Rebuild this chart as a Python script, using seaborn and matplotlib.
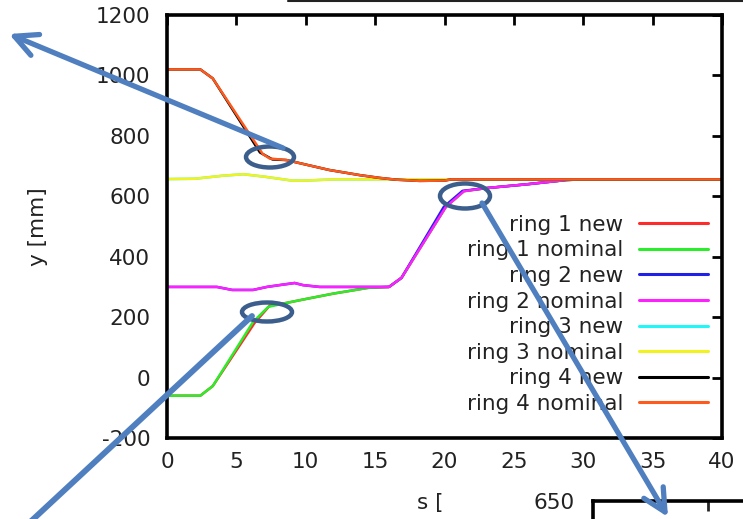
import matplotlib
matplotlib.use("Agg")
import matplotlib.pyplot as plt
import seaborn as sns
import pandas as pd
from matplotlib.patches import Ellipse, FancyArrowPatch, ArrowStyle
from matplotlib.lines import Line2D

# ---------------- data ----------------
ring1_new_s = [0, 2.4, 3.3, 6.3, 7.4, 8.6, 10, 12, 14.5, 16, 16.9, 20.1, 21.4, 23, 26, 28.8, 30, 40]
ring1_new_y = [-60, -60, -28, 180, 238, 247, 260, 278, 297, 300, 330, 565, 617, 627, 640, 654, 656, 656]

ring1_nom_s = [0, 2.4, 3.3, 6.2, 7.3, 8.6, 10, 12, 14.5, 16, 16.9, 20.1, 21.4, 23, 26, 28.8, 30, 40]
ring1_nom_y = [-60, -60, -28, 184, 234, 247, 260, 278, 297, 300, 330, 565, 617, 627, 640, 654, 656, 656]

ring2_new_s = [0, 3.6, 4.7, 6.2, 7.2, 8.1, 9.2, 9.8, 11, 16, 16.9, 19.95, 21.3, 23, 26, 28.8, 30, 40]
ring2_new_y = [300, 300, 290, 290, 300, 306, 313, 306, 300, 300, 330, 565, 618, 627, 640, 654, 656, 656]

ring2_nom_s = [0, 3.6, 4.7, 6.2, 7.2, 8.1, 9.2, 9.8, 11, 16, 16.9, 20.1, 21.4, 23, 26, 28.8, 30, 40]
ring2_nom_y = [300, 300, 290, 290, 300, 306, 313, 306, 300, 300, 330, 565, 617, 627, 640, 654, 656, 656]

ring3_new_s = [0, 2, 4, 5.5, 7, 9, 10, 12, 16, 40]
ring3_new_y = [657, 658, 668, 673, 665, 652, 652, 656, 656, 656]

ring3_nom_s = [0, 2, 4, 5.5, 7, 9, 10, 12, 16, 40]
ring3_nom_y = [657, 658, 668, 673, 665, 652, 652, 656, 656, 656]

ring4_new_s = [0, 2.4, 3.3, 6.7, 7.6, 8.6, 10, 11.7, 13.9, 15.3, 16.5, 18.2, 20, 20.5, 40]
ring4_new_y = [1020, 1020, 990, 745, 722, 720, 705, 687, 670, 661, 655, 651, 652, 656, 656]

ring4_nom_s = [0, 2.4, 3.3, 6.9, 7.4, 8.6, 10, 11.7, 13.9, 15.3, 16.5, 18.2, 20, 20.5, 40]
ring4_nom_y = [1020, 1020, 990, 740, 725, 720, 705, 687, 670, 661, 655, 651, 652, 656, 656]

labels = ["ring 1 new", "ring 1 nominal", "ring 2 new", "ring 2 nominal",
          "ring 3 new", "ring 3 nominal", "ring 4 new", "ring 4 nominal"]
colors = ["#ff2a2a", "#2aee2a", "#2020e8", "#ff20ff",
          "#20f8f8", "#f2f21e", "#000000", "#ff5a1e"]
xticks = [0, 5, 10, 15, 20, 25, 30, 35, 40]
yticks = [-200, 0, 200, 400, 600, 800, 1000, 1200]

series = [
    (ring1_new_s, ring1_new_y), (ring1_nom_s, ring1_nom_y),
    (ring2_new_s, ring2_new_y), (ring2_nom_s, ring2_nom_y),
    (ring3_new_s, ring3_new_y), (ring3_nom_s, ring3_nom_y),
    (ring4_new_s, ring4_new_y), (ring4_nom_s, ring4_nom_y),
]

# ---------------- figure ----------------
sns.set_theme(style="white")
plt.rcParams["font.family"] = ["DejaVu Sans"]
FS = 15.5

W, H = 743, 519
fig = plt.figure(figsize=(W / 100, H / 100), dpi=100)
fig.patch.set_facecolor("white")


def P(x, y):
    return (x / W, 1 - y / H)


ax = fig.add_axes([167 / W, 1 - 438 / H, (722 - 167) / W, (438 - 15) / H])

for (s, y), lab, col in zip(series, labels, colors):
    df = pd.DataFrame({"s": s, "y": y})
    sns.lineplot(data=df, x="s", y="y", ax=ax, color=col, lw=1.8,
                 label=lab, sort=False, estimator=None)

ax.set_xlim(0, 40)
ax.set_ylim(-200, 1200)
ax.set_xticks(xticks)
ax.set_yticks(yticks)
ax.set_xticklabels([str(v) for v in xticks])
ax.set_yticklabels([str(v) for v in yticks])
ax.tick_params(direction="in", length=7, width=2.0, top=True, right=True,
               labelsize=FS, colors="black", labelcolor="#222222")
ax.tick_params(axis="y", pad=12)
ax.tick_params(axis="x", pad=10)
for sp in ax.spines.values():
    sp.set_linewidth(2.6)
    sp.set_color("black")
ax.set_xlabel("")
ax.set_ylabel("y [mm]", fontsize=FS, color="#222222")
ax.yaxis.set_label_coords((48 - 167) / (722 - 167), 0.5)
ax.grid(False)

leg = ax.legend(loc="lower right",
                bbox_to_anchor=((708 - 167) / (722 - 167), (438 - 414) / (438 - 15)),
                frameon=False, markerfirst=False, handlelength=3.2,
                handletextpad=0.75, labelspacing=0.26, borderpad=0,
                borderaxespad=0, fontsize=FS)
for t in leg.get_texts():
    t.set_color("#222222")
for lh in leg.get_lines():
    lh.set_linewidth(2.2)
try:
    for col in leg._legend_handle_box.get_children():
        col.align = "right"
except Exception:
    pass

# partial x label (rest is hidden in the original slide)
fig.text(*P(417, 503), "s [", fontsize=FS, color="#222222", ha="left", va="center")

# line of the element above (cropped)
fig.add_artist(Line2D([288 / W, 1.0], [1 - 1 / H, 1 - 1 / H], transform=fig.transFigure,
                      color="#222222", lw=1.5))

# cropped inset plot at bottom right
ax2 = fig.add_axes([593 / W, -0.3, 0.4, 0.3 + (519 - 501) / H])
ax2.set_xlim(0, 1)
ax2.set_ylim(600, 650)
ax2.set_yticks([650])
ax2.set_yticklabels(["650"])
ax2.set_xticks([(708 - 593) / (0.4 * W)])
ax2.set_xticklabels([])
ax2.tick_params(direction="in", length=7, width=2.0, top=True, labelsize=FS,
                labelcolor="#222222", pad=13)
for sp in ax2.spines.values():
    sp.set_linewidth(2.6)
    sp.set_color("black")
ax2.set_facecolor("white")

# annotation ellipses and arrows
ecol = "#3b5e8c"
acol = "#4f7fbf"
for (cx, cy, w, h) in [(270, 157, 48, 21), (267, 312, 50, 19), (465, 196, 50, 25)]:
    fig.add_artist(Ellipse(P(cx, cy), w / W, h / H, transform=fig.transFigure,
                           fill=False, edgecolor=ecol, lw=3.2, zorder=5))

head = ArrowStyle("->", head_length=0.9, head_width=0.45)
fig.add_artist(FancyArrowPatch(P(283, 148), P(9, 34), transform=fig.transFigure,
                               arrowstyle=head, mutation_scale=18, color=acol,
                               lw=3.8, zorder=6, shrinkA=0, shrinkB=0))
fig.add_artist(FancyArrowPatch(P(252, 316), P(28, 524), transform=fig.transFigure,
                               arrowstyle="-", color=acol, lw=4.2, zorder=6,
                               shrinkA=0, shrinkB=0))
fig.add_artist(FancyArrowPatch(P(482, 203), P(668, 517), transform=fig.transFigure,
                               arrowstyle=head, mutation_scale=18, color=acol,
                               lw=3.8, zorder=6, shrinkA=0, shrinkB=0))

fig.savefig("out.png", dpi=100, facecolor="white")
